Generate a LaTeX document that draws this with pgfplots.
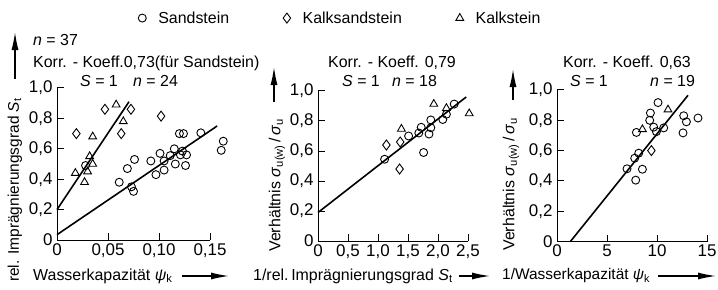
\documentclass[border=0pt]{standalone}
\usepackage{fontspec}
\setmainfont{Liberation Sans}
\usepackage{pgfplots}
\pgfplotsset{compat=1.18}
\usetikzlibrary{arrows.meta}
\newcommand\F{\fontsize{16}{19}\selectfont}
\newcommand\T{\fontsize{17}{20}\selectfont}
\newcommand\Y{\fontsize{15.5}{18}\selectfont}
\pgfplotsset{
  panel/.style={scale only axis, axis lines=left, axis line style={-, line width=1bp},
    tick align=inside, major tick length=7bp, tick style={line width=1bp, black},
    clip=false, anchor=south west, ymin=0, ymax=1,
    ytick={0,0.2,0.4,0.6,0.8,1}, yticklabels={0,{0,2},{0,4},{0,6},{0,8},{1,0}},
    font=\T, every tick label/.append style={font=\T},
    yticklabel style={xshift=-1bp}},
  circ/.style={only marks, mark=o, mark size=4bp, mark options={line width=0.9bp, black}},
  diam/.style={only marks, mark=diamond, mark size=5bp, mark options={line width=0.9bp, black}},
  tri/.style={only marks, mark=triangle, mark size=4.5bp, mark options={line width=0.9bp, black}},
  reg/.style={no marks, line width=1.6bp, black, forget plot}
}
\tikzset{bigarrow/.style={line width=1.3bp, -{Latex[length=18bp,width=7bp]}}}
\begin{document}
\begin{tikzpicture}[x=1bp,y=1bp]
\useasboundingbox (0,0) rectangle (718,289);
% ---------- left panel
\begin{axis}[panel, at={(57bp,49bp)}, width=153bp, height=152bp,
  xmin=0, xmax=0.15, xtick={0,0.05,0.1,0.15}, xticklabels={0,{0,05},{0,10},{0,15}},
  legend columns=3,
  legend style={at={(0.53,1.46)}, anchor=west, draw=none, fill=none, inner sep=0pt, font=\F,
    /tikz/every odd column/.append style={column sep=10bp},
    /tikz/every even column/.append style={column sep=52bp}},
  legend image code/.code={\draw plot coordinates {(0bp,0bp)};}]
\addplot[circ] coordinates {(0.028,0.49)(0.061,0.38)(0.069,0.47)(0.076,0.53)(0.073,0.35)(0.075,0.32)
 (0.092,0.52)(0.101,0.57)(0.105,0.52)(0.097,0.43)(0.105,0.46)(0.111,0.555)(0.115,0.60)(0.116,0.50)
 (0.121,0.56)(0.123,0.585)(0.127,0.56)(0.126,0.49)(0.120,0.70)(0.124,0.70)(0.141,0.705)(0.161,0.59)(0.163,0.65)};
\addplot[diam] coordinates {(0.047,0.86)(0.0725,0.86)(0.019,0.70)(0.063,0.70)(0.102,0.815)};
\addplot[tri] coordinates {(0.058,0.89)(0.065,0.78)(0.035,0.68)(0.032,0.55)(0.035,0.50)(0.018,0.44)(0.027,0.38)(0.03,0.45)};
\addplot[reg] coordinates {(0,0.035)(0.157,0.75)};
\addplot[reg] coordinates {(0,0.2)(0.0706,0.91)};
\legend{Sandstein,Kalksandstein,Kalkstein}
\end{axis}
% ---------- middle panel
\begin{axis}[panel, at={(318bp,48bp)}, width=150bp, height=150bp,
  xmin=0, xmax=2.5, xtick={0,0.5,1,1.5,2,2.5}, xticklabels={0,{0,5},{1,0},{1,5},{2,0},{2,5}}]
\addplot[circ] coordinates {(2.27,0.913)(2.14,0.845)(2.08,0.81)(1.88,0.807)(1.88,0.755)(1.85,0.713)
 (1.72,0.758)(1.68,0.72)(1.51,0.70)(1.11,0.545)(1.76,0.59)};
\addplot[diam] coordinates {(1.14,0.64)(1.37,0.66)(1.36,0.48)};
\addplot[tri] coordinates {(1.93,0.913)(2.14,0.885)(1.39,0.747)(2.52,0.85)};
\addplot[reg] coordinates {(0,0.19)(2.47,0.96)};
\end{axis}
% ---------- right panel
\begin{axis}[panel, at={(557bp,47.5bp)}, width=150bp, height=151.5bp,
  xmin=0, xmax=15, xtick={0,5,10,15}, xticklabels={0,5,10,15}]
\addplot[circ] coordinates {(10.1,0.917)(9.34,0.848)(9.27,0.80)(9.67,0.755)(9.94,0.725)(10.67,0.75)
 (7.94,0.72)(12.67,0.83)(12.94,0.79)(14.1,0.815)(12.6,0.717)(8.17,0.583)(7.77,0.55)(7.0,0.48)(8.54,0.477)(7.87,0.405)};
\addplot[diam] coordinates {(9.44,0.60)};
\addplot[tri] coordinates {(8.54,0.74)(11.1,0.87)};
\addplot[reg] coordinates {(1.34,0)(13.1,0.965)};
\end{axis}
% ---------- texts
\begin{scope}[every node/.style={font=\F, inner sep=0pt}]
\node[anchor=west] at (33,249) {\textit{n} = 37};
\node[anchor=west] at (33,226) {Korr. - Koeff.0,73(für Sandstein)};
\node[anchor=west] at (80,208) {\textit{S} = 1};
\node[anchor=west] at (133,208) {\textit{n} = 24};
\node[anchor=west] at (328,226) {Korr. - Koeff. 0,79};
\node[anchor=west] at (342,208) {\textit{S} = 1};
\node[anchor=west] at (392,208) {\textit{n} = 18};
\node[anchor=west] at (563,226) {Korr. - Koeff. 0,63};
\node[anchor=west] at (570,208) {\textit{S} = 1};
\node[anchor=west] at (650,208) {\textit{n} = 19};
% x labels
\node[anchor=west] (xl1) at (33,13) {Wasserkapazität \textit{ψ}\textsubscript{k}};
\node[anchor=west] (xl2) at (253,13) {1/rel.\,Imprägnierungsgrad \textit{S}\textsubscript{t}};
\node[anchor=west, font=\Y] (xl3) at (502,13) {1/Wasserkapazität \textit{ψ}\textsubscript{k}};
% y labels
\node[rotate=90, font=\Y] at (15,99) {rel. Imprägnierungsgrad \textit{S}\textsubscript{t}};
\node[rotate=90] at (277,104) {Verhältnis \textit{σ}\textsubscript{u(w)}\,/\,\textit{σ}\textsubscript{u}};
\node[rotate=90] at (511,105) {Verhältnis \textit{σ}\textsubscript{u(w)}\,/\,\textit{σ}\textsubscript{u}};
\end{scope}
\draw[bigarrow] ([xshift=9bp]xl1.east |- 0,13) -- (229,13);
\draw[bigarrow] ([xshift=6bp]xl2.east |- 0,13) -- (490,13);
\draw[bigarrow] ([xshift=8bp]xl3.east |- 0,13) -- (716,13);
\draw[bigarrow] (15,210) -- (15,257);
\draw[bigarrow] (274,187) -- (274,222);
\draw[bigarrow] (513,189) -- (513,220);
\end{tikzpicture}
\end{document}
